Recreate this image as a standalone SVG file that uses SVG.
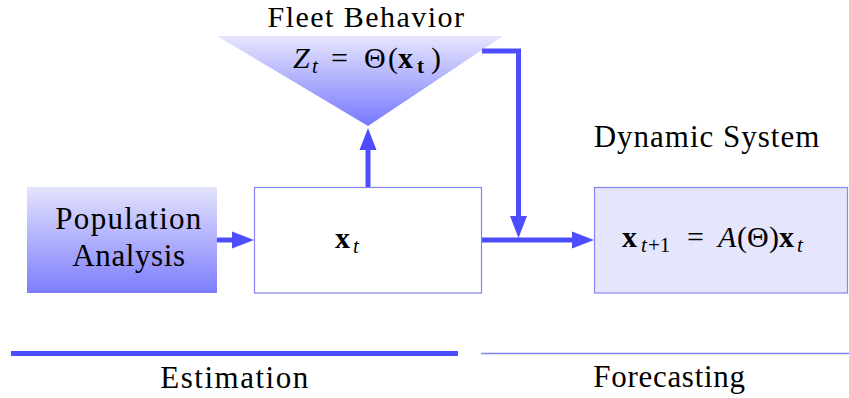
<svg xmlns="http://www.w3.org/2000/svg" width="849" height="398" viewBox="0 0 849 398" font-family="'Liberation Serif', 'Times New Roman', 'DejaVu Serif', serif">
<style>
text{font-family:'Liberation Serif','Times New Roman','DejaVu Serif',serif;fill:#000;}
.lbl{font-size:31px;letter-spacing:1px;}
.m{font-size:30px;}
.sub{font-size:21px;}
.it{font-style:italic;}
.b{font-weight:bold;}
.conn{fill:none;stroke:#4d4dff;stroke-width:5;}
.box{stroke:#8585f5;stroke-width:1.2;}
</style>
<defs>
<linearGradient id="gPop" x1="0" y1="0" x2="0" y2="1">
<stop offset="0" stop-color="#e4e4fd"/>
<stop offset="1" stop-color="#7d7dfd"/>
</linearGradient>
<linearGradient id="gTri" x1="0" y1="0" x2="0" y2="1">
<stop offset="0" stop-color="#e6e6fd"/>
<stop offset="1" stop-color="#7777ff"/>
</linearGradient>
<marker id="ah" markerUnits="userSpaceOnUse" viewBox="0 -9 22 18" markerWidth="22" markerHeight="18" refX="0" refY="0" orient="auto">
<path d="M0,-8.5 L22,0 L0,8.5 Z" fill="#4d4dff"/>
</marker>
</defs>

<g id="fleet">
<polygon points="217,36 503,36 368,126" fill="url(#gTri)"/>
<text class="lbl" x="366.5" y="27" text-anchor="middle" style="font-size:30px;letter-spacing:1.45px">Fleet Behavior</text>
<text class="m" y="68"><tspan class="it" x="293">Z</tspan><tspan class="sub it" x="312" dy="5">t</tspan><tspan x="331" dy="-5">=</tspan><tspan x="364">Θ</tspan><tspan x="388">(</tspan><tspan class="b" x="398">x</tspan><tspan class="sub b" x="417" dy="5">t</tspan><tspan x="431" dy="-5">)</tspan></text>
</g>

<g id="population">
<rect x="27" y="187" width="190" height="106" fill="url(#gPop)"/>
<text class="lbl" x="129" y="229" text-anchor="middle" style="letter-spacing:1.3px">Population</text>
<text class="lbl" x="129" y="266" text-anchor="middle" style="letter-spacing:0.6px">Analysis</text>
</g>

<g id="state">
<rect class="box" x="254.5" y="187.5" width="227" height="105.5" fill="#fff"/>
<text class="m" y="248"><tspan class="b" x="335">x</tspan><tspan class="sub it" x="353" dy="5">t</tspan></text>
</g>

<g id="dynamic">
<text class="lbl" x="707" y="147" text-anchor="middle">Dynamic System</text>
<rect class="box" x="594.5" y="187.5" width="253" height="105.5" fill="#e5e5fb"/>
<text class="m" y="247"><tspan class="b" x="622">x</tspan><tspan class="sub it" x="641" dy="5">t</tspan><tspan class="sub" x="648">+1</tspan><tspan x="687" dy="-5">=</tspan><tspan class="it" x="718">A</tspan><tspan x="737">(</tspan><tspan x="747">Θ</tspan><tspan x="769">)</tspan><tspan class="b" x="779">x</tspan><tspan class="sub it" x="797" dy="5">t</tspan></text>
</g>

<g id="connectors">
<line class="conn" x1="217" y1="240" x2="232" y2="240" marker-end="url(#ah)"/>
<line class="conn" x1="368" y1="187" x2="368" y2="150" marker-end="url(#ah)"/>
<line class="conn" x1="482" y1="240" x2="572" y2="240" marker-end="url(#ah)"/>
<polyline class="conn" points="482,51 518.5,51 518.5,216" marker-end="url(#ah)"/>
</g>

<g id="phases">
<line x1="11" y1="353.5" x2="458" y2="353.5" stroke="#4d4dff" stroke-width="5"/>
<line x1="481" y1="353.5" x2="849" y2="353.5" stroke="#8585f5" stroke-width="1.3"/>
<text class="lbl" x="235" y="388" text-anchor="middle" style="letter-spacing:1.5px">Estimation</text>
<text class="lbl" x="669.5" y="387" text-anchor="middle" style="letter-spacing:0.7px">Forecasting</text>
</g>
</svg>
